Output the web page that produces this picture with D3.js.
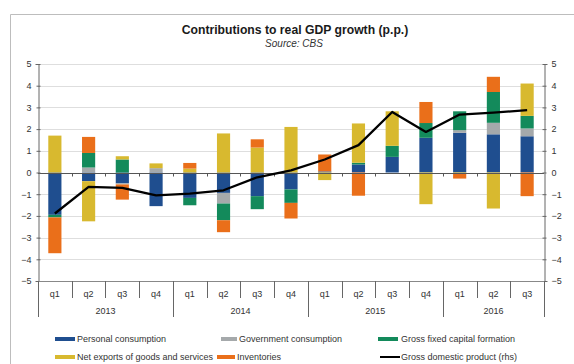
<!DOCTYPE html>
<html>
<head>
<meta charset="utf-8">
<script src="https://cdn.jsdelivr.net/npm/d3@7/dist/d3.min.js"></script>
<style>
  html, body { margin: 0; padding: 0; background: #fff; }
  svg { display: block; font-family: "Liberation Sans", Arial, sans-serif; }
</style>
</head>
<body>
<svg id="chart" width="574" height="364"></svg>
<script>
// Quarters and years
const quarters = ["q1","q2","q3","q4","q1","q2","q3","q4","q1","q2","q3","q4","q1","q2","q3"];
const years = ["2013","2014","2015","2016"];
const yearSpans = [4, 4, 4, 3];

// Contributions to real GDP growth, percentage points
const personalConsumption = [-1.95, -0.40, -0.50, -1.55, -1.17, -0.94, -1.09, -0.78, 0.05, 0.37, 0.72, 1.60, 1.83, 1.76, 1.67];
const governmentConsumption = [0, 0.23, -0.05, 0.20, 0, -0.49, 0, 0, 0, 0, 0, 0, 0.12, 0.53, 0.36];
const grossFixedCapital = [-0.12, 0.67, 0.60, 0, -0.34, -0.77, -0.60, -0.62, 0, 0.08, 0.51, 0.68, 0.87, 1.42, 0.58];
const netExports = [1.70, -1.85, 0.15, 0.22, 0.18, 1.80, 1.15, 2.10, -0.35, 1.81, 1.59, -1.46, -0.05, -1.66, 1.49];
const inventories = [-1.65, 0.74, -0.70, 0, 0.26, -0.55, 0.38, -0.72, 0.78, -1.07, 0, 0.97, -0.23, 0.70, -1.09];
const gdp = [-1.89, -0.66, -0.71, -1.05, -0.97, -0.82, -0.22, 0.10, 0.60, 1.26, 2.79, 1.87, 2.67, 2.76, 2.87];

const yTicks = [-5, -4, -3, -2, -1, 0, 1, 2, 3, 4, 5];

const seriesNames = ["Personal consumption", "Government consumption", "Gross fixed capital formation",
                     "Net exports of goods and services", "Inventories"];
const seriesColors = ["#1f4e8f", "#a5a9ab", "#138a5b", "#d8b92f", "#ea6f1a"];
const seriesValues = [personalConsumption, governmentConsumption, grossFixedCapital, netExports, inventories];

const rows = quarters.map((q, i) => {
  const r = { idx: i };
  seriesNames.forEach((n, k) => r[n] = seriesValues[k][i]);
  return r;
});

const svg = d3.select("#chart");
const plotL = 38, plotR = 544, plotT = 64, plotB = 281;

// Outer frame (left and top edges)
svg.append("path")
  .attr("d", "M10.5,364 V14.5 H574")
  .attr("fill", "none").attr("stroke", "#bdbdbd").attr("stroke-width", 1);

// Title
svg.append("text").attr("x", 295).attr("y", 34)
  .attr("text-anchor", "middle").attr("font-size", 12.2).attr("font-weight", "bold")
  .attr("fill", "#1a1a1a").text("Contributions to real GDP growth (p.p.)");
svg.append("text").attr("x", 294).attr("y", 46.5)
  .attr("text-anchor", "middle").attr("font-size", 10).attr("font-style", "italic")
  .attr("fill", "#333").text("Source: CBS");

const x = d3.scaleBand().domain(d3.range(quarters.length)).range([plotL, plotR]).paddingInner(0.61).paddingOuter(0.305);
const step = x.step();
const y = d3.scaleLinear().domain([-5, 5]).range([plotB, plotT]);
const yR = d3.scaleLinear().domain([-5, 5]).range([plotB, plotT]);

// Horizontal gridlines
svg.append("g").selectAll("line").data(yTicks.filter(t => t !== 0)).join("line")
  .attr("x1", plotL).attr("x2", plotR)
  .attr("y1", d => Math.round(y(d)) + 0.5).attr("y2", d => Math.round(y(d)) + 0.5)
  .attr("stroke", "#dedede").attr("stroke-width", 1);

// Stacked contributions (positives above, negatives below zero)
const stack = d3.stack().keys(seriesNames).offset(d3.stackOffsetDiverging);
const layers = stack(rows);
svg.append("g").selectAll("g").data(layers).join("g")
  .attr("fill", (d, i) => seriesColors[i])
  .selectAll("rect").data(d => d).join("rect")
  .attr("x", d => x(d.data.idx))
  .attr("width", x.bandwidth())
  .attr("y", d => y(Math.max(d[0], d[1])))
  .attr("height", d => Math.abs(y(d[0]) - y(d[1])));

// Zero line with category ticks
const zeroY = Math.round(y(0)) + 0.5;
svg.append("line").attr("x1", plotL).attr("x2", plotR).attr("y1", zeroY).attr("y2", zeroY)
  .attr("stroke", "#555").attr("stroke-width", 1);
svg.append("g").selectAll("line").data(d3.range(1, quarters.length)).join("line")
  .attr("x1", i => Math.round(plotL + i * step) + 0.5).attr("x2", i => Math.round(plotL + i * step) + 0.5)
  .attr("y1", zeroY).attr("y2", zeroY + 3)
  .attr("stroke", "#555");

// Left axis
const gL = svg.append("g").attr("transform", `translate(${plotL + 0.5},0)`)
  .call(d3.axisLeft(y).tickValues(yTicks).tickSize(3).tickPadding(4).tickFormat(d3.format("d")));
gL.select(".domain").attr("stroke", "#666");
gL.selectAll(".tick line").attr("stroke", "#666").attr("x2", 2).attr("x1", -2);
gL.selectAll("text").attr("font-size", 9).attr("fill", "#333").attr("font-family", "Liberation Sans, Arial, sans-serif");

// Right axis (GDP, rhs)
const gR = svg.append("g").attr("transform", `translate(${plotR + 0.5},0)`)
  .call(d3.axisRight(yR).tickValues(yTicks).tickSize(3).tickPadding(4).tickFormat(d3.format("d")));
gR.select(".domain").attr("stroke", "#666");
gR.selectAll(".tick line").attr("stroke", "#666").attr("x1", -2).attr("x2", 2);
gR.selectAll("text").attr("font-size", 9).attr("fill", "#333").attr("font-family", "Liberation Sans, Arial, sans-serif");

// Bottom category axis: quarter separators, year separators and labels
const botY = plotB + 0.5;
svg.append("line").attr("x1", plotL).attr("x2", plotR).attr("y1", botY).attr("y2", botY).attr("stroke", "#888");
const yearBounds = [0];
yearSpans.forEach((s, i) => yearBounds.push(yearBounds[i] + s));
svg.append("g").selectAll("line").data(d3.range(0, quarters.length + 1)).join("line")
  .attr("x1", i => Math.round(plotL + i * step) + 0.5).attr("x2", i => Math.round(plotL + i * step) + 0.5)
  .attr("y1", plotB).attr("y2", i => yearBounds.includes(i) ? 317 : 298)
  .attr("stroke", "#666");
svg.append("g").selectAll("text").data(quarters).join("text")
  .attr("x", (d, i) => x(i) + x.bandwidth() / 2).attr("y", 297)
  .attr("text-anchor", "middle").attr("font-size", 9).attr("fill", "#333").text(d => d);
svg.append("g").selectAll("text").data(years).join("text")
  .attr("x", (d, i) => plotL + (yearBounds[i] + yearBounds[i + 1]) / 2 * step).attr("y", 314)
  .attr("text-anchor", "middle").attr("font-size", 9).attr("fill", "#333").text(d => d);

// GDP line
svg.append("path").datum(gdp)
  .attr("fill", "none").attr("stroke", "#000").attr("stroke-width", 2.3).attr("stroke-linejoin", "round")
  .attr("d", d3.line().x((d, i) => x(i) + x.bandwidth() / 2).y(d => yR(d)));

// Legend
const legendItems = [
  { name: seriesNames[0], color: seriesColors[0], sx: 55, w: 20, tx: 77, ry: 0 },
  { name: seriesNames[1], color: seriesColors[1], sx: 221, w: 16, tx: 239, ry: 0 },
  { name: seriesNames[2], color: seriesColors[2], sx: 378, w: 20, tx: 401, ry: 0 },
  { name: seriesNames[3], color: seriesColors[3], sx: 55, w: 20, tx: 77, ry: 1 },
  { name: seriesNames[4], color: seriesColors[4], sx: 217, w: 18, tx: 237, ry: 1 },
  { name: "Gross domestic product (rhs)", color: "#000", sx: 380, w: 20, tx: 401, ry: 1, line: true }
];
const lg = svg.append("g").selectAll("g").data(legendItems).join("g")
  .attr("transform", d => `translate(0,${339 + d.ry * 18})`);
lg.append("rect").attr("x", d => d.sx).attr("y", d => d.line ? -1 : -2).attr("width", d => d.w)
  .attr("height", d => d.line ? 2 : 4).attr("fill", d => d.color);
lg.append("text").attr("x", d => d.tx).attr("y", 3.2).attr("font-size", 9).attr("fill", "#333").text(d => d.name);
</script>
</body>
</html>
